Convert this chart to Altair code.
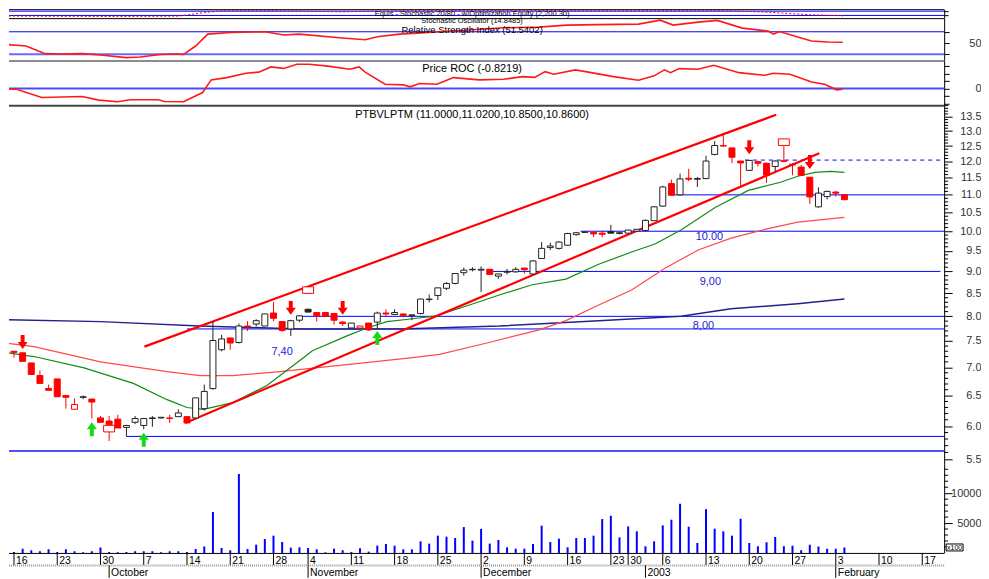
import altair as alt
import pandas as pd

# ---------------- data (x = trading-day index, 0 = Mon 16 Sep 2002) ----------------
day_idx = list(range(-1, 97))

opens = [7.19, 7.30, 7.27, 7.08, 6.85, 6.62, 6.79, 6.50, 6.27, 6.47,
         6.44, 6.13, 6.08, 6.11, 5.98, 6.06, 6.01, 6.12, 6.13, 6.13,
         6.15, 6.15, 6.13, 6.28, 6.62, 7.33, 7.56, 7.47, 7.80, 7.84,
         7.80, 8.07, 7.89, 7.74, 7.92, 8.15, 8.08, 8.08, 8.06, 7.88,
         7.76, 7.76, 7.86, 7.88, 8.07, 8.04, 8.05, 8.02, 8.06, 8.36,
         8.45, 8.61, 8.72, 8.97, 9.04, 9.03, 9.05, 8.89, 8.98, 8.99,
         9.08, 8.94, 9.31, 9.58, 9.56, 9.64, 9.91, 9.97, 9.97, 9.95,
         9.99, 9.94, 9.95, 10.00, 10.02, 10.28, 10.68, 11.33, 11.00, 11.49,
         11.46, 11.48, 12.23, 12.52, 12.44, 12.02, 11.73, 12.00, 11.95, 11.85,
         12.03, 11.92, 11.83, 11.52, 10.66, 10.95, 11.08, 11.00]
highs = [7.31, 7.30, 7.27, 7.08, 6.94, 6.69, 6.79, 6.51, 6.45, 6.50,
         6.45, 6.16, 6.16, 6.18, 6.02, 6.16, 6.13, 6.16, 6.14, 6.18,
         6.27, 6.16, 6.46, 6.69, 7.89, 7.62, 7.56, 7.85, 7.90, 7.94,
         8.05, 8.31, 7.90, 7.93, 8.02, 8.16, 8.08, 8.08, 8.06, 7.90,
         7.86, 7.80, 7.86, 8.10, 8.15, 8.15, 8.06, 8.04, 8.38, 8.47,
         8.63, 8.75, 8.96, 9.09, 9.10, 9.12, 9.05, 8.94, 9.06, 9.10,
         9.08, 9.27, 9.72, 9.70, 9.74, 9.96, 9.98, 9.98, 10.00, 10.02,
         10.17, 9.98, 10.04, 10.05, 10.31, 10.68, 11.27, 11.45, 11.63, 11.78,
         11.53, 12.19, 12.66, 12.91, 12.46, 12.02, 12.05, 12.03, 11.97, 12.04,
         12.50, 11.96, 11.90, 11.52, 11.22, 11.12, 11.12, 11.02]
lows = [7.17, 7.18, 7.11, 6.87, 6.71, 6.59, 6.48, 6.28, 6.27, 6.44,
        6.12, 6.05, 5.77, 5.97, 5.84, 6.03, 5.95, 5.99, 6.12, 6.05,
        6.15, 6.05, 6.13, 6.25, 6.60, 7.30, 7.33, 7.45, 7.70, 7.79,
        7.80, 7.90, 7.68, 7.60, 7.88, 8.08, 7.89, 8.00, 7.83, 7.80,
        7.76, 7.75, 7.70, 7.74, 8.01, 8.03, 7.98, 7.92, 8.04, 8.30,
        8.35, 8.57, 8.70, 8.90, 9.00, 8.53, 8.93, 8.83, 8.93, 8.97,
        8.95, 8.93, 9.30, 9.52, 9.53, 9.62, 9.89, 9.97, 9.85, 9.84,
        9.94, 9.92, 9.94, 9.98, 9.99, 10.27, 10.66, 10.98, 10.98, 11.40,
        11.23, 11.46, 12.20, 12.48, 11.95, 11.27, 11.72, 11.85, 11.35, 11.70,
        11.98, 11.58, 11.56, 10.74, 10.64, 10.87, 10.95, 10.85]
closes = [7.29, 7.28, 7.11, 6.87, 6.71, 6.59, 6.48, 6.47, 6.35, 6.48,
          6.39, 6.06, 6.02, 5.97, 6.01, 6.12, 6.12, 6.13, 6.14, 6.12,
          6.21, 6.05, 6.46, 6.57, 7.51, 7.54, 7.46, 7.80, 7.78, 7.91,
          8.05, 7.96, 7.71, 7.91, 8.01, 8.09, 8.01, 8.00, 7.92, 7.85,
          7.86, 7.80, 7.72, 8.07, 8.05, 8.08, 8.02, 8.03, 8.37, 8.37,
          8.62, 8.72, 8.95, 9.03, 9.05, 9.05, 8.93, 8.94, 9.00, 9.05,
          9.04, 9.25, 9.56, 9.62, 9.72, 9.94, 9.96, 9.98, 9.93, 9.92,
          9.95, 9.96, 10.03, 10.05, 10.29, 10.66, 11.23, 10.99, 11.47, 11.46,
          11.48, 12.02, 12.52, 12.50, 12.14, 11.96, 12.04, 11.95, 11.58, 12.02,
          12.01, 11.90, 11.58, 10.94, 11.05, 11.10, 11.05, 10.86]
volumes = [100, 170, 720, 450, 280, 610, 170, 610, 280, 110,
           280, 890, 170, 110, 170, 280, 280, 280, 110, 280,
           280, 170, 670, 1060, 6830, 830, 450, 13220, 670, 1390,
           2330, 2890, 1830, 890, 940, 830, 610, 110, 720, 450,
           170, 780, 220, 1220, 1500, 1220, 610, 610, 1940, 1560,
           2890, 2720, 2500, 4330, 2060, 4030, 1560, 2170, 940, 720,
           720, 1500, 4560, 1830, 2390, 940, 2500, 2500, 2890, 5670,
           6220, 2610, 4440, 3610, 1110, 1940, 4610, 5560, 8220, 4390,
           1670, 7330, 4060, 3610, 2890, 5720, 1670, 1110, 1780, 2670,
           1110, 1220, 450, 1390, 1060, 720, 720, 890]

rsi_i = [-1.5, 1.4, 3.6, 5.4, 7.9, 10.0, 13.0, 14.6, 16.9, 18.7, 19.6, 21.0, 22.4,
         25.0, 29.0, 31.2, 33.0, 37.6, 40.6, 42.0, 44.6, 49.4, 56.6, 60.7, 63.9, 67.6,
         72.2, 74.7, 76.2, 79.1, 81.3, 84.2, 87.2, 87.8, 88.5, 90.6, 92.2, 94.1, 95.8]
rsi_v = [48.2, 44.7, 31.1, 30.5, 31.1, 28.8, 24.0, 25.2, 29.6, 30.5, 29.6, 44.7, 65.9,
         68.6, 70.0, 64.2, 65.9, 59.4, 55.8, 61.2, 65.9, 70.0, 77.1, 78.3, 81.9, 82.7,
         83.6, 90.7, 81.9, 87.2, 90.2, 76.5, 71.2, 65.9, 70.4, 60.6, 53.5, 51.8, 51.5]

roc_i = [-1.5, 0.3, 3.2, 7.9, 9.8, 12.0, 13.4, 16.7, 17.4, 19.6, 21.8, 22.8, 24.6,
         26.8, 28.3, 29.7, 31.2, 32.7, 34.1, 36.3, 38.8, 39.9, 40.6, 42.9, 45.0, 45.8,
         46.9, 48.9, 50.8, 53.8, 56.6, 58.8, 60.2, 61.4, 62.4, 64.9, 66.4, 69.3, 72.2,
         74.0, 75.2, 75.9, 76.9, 79.1, 80.9, 83.8, 86.8, 87.8, 89.7, 92.2, 93.7, 95.1, 95.8]
roc_v = [0.0, -0.8, -12.0, -10.7, -15.5, -17.7, -15.0, -15.0, -17.3, -17.7, -5.3, 11.6, 14.7,
         20.5, 22.0, 29.0, 27.0, 32.5, 32.5, 30.0, 25.8, 29.0, 22.0, 5.8, 5.0, 2.3,
         6.7, 5.8, 14.7, 11.6, 12.5, 16.0, 15.0, 22.7, 19.2, 25.0, 22.0, 16.0, 11.2,
         17.0, 25.0, 21.3, 26.7, 25.8, 31.2, 21.3, 17.8, 20.5, 19.2, 8.9, 5.8, -1.7, -0.8]

stoch_i = [-1.5, 5, 12, 19, 22, 24, 30, 38, 42, 50, 60, 70, 80, 85, 88, 92, 96]
stoch_v = [12, 8, 5, 10, 60, 85, 88, 70, 82, 88, 90, 85, 92, 75, 60, 30, 14.8]

ma_short_i = [-1.5, 2.3, 8.1, 13.8, 17.7, 20.0, 21.9, 25.3, 29.2, 33.0, 34.5, 38.5, 40.8,
              43.1, 46.1, 48.8, 52.3, 56.1, 59.9, 63.8, 67.6, 71.4, 74.1, 77.1, 81.1, 84.9,
              88.6, 90.6, 92.6, 94.4, 96.0]
ma_short_p = [7.29, 7.20, 6.99, 6.71, 6.43, 6.30, 6.27, 6.38, 6.67, 7.12, 7.31, 7.60, 7.76,
              7.89, 7.95, 8.01, 8.22, 8.46, 8.69, 8.82, 9.17, 9.47, 9.67, 10.03, 10.65, 11.13,
              11.37, 11.55, 11.67, 11.70, 11.67]
ma_mid_i = [-1.5, 2.3, 10.0, 17.7, 21.5, 25.3, 30.7, 38.5, 46.1, 49.2, 54.9, 60.7, 63.8,
            67.6, 71.4, 75.3, 79.1, 82.9, 86.8, 90.6, 96.0]
ma_mid_p = [7.47, 7.39, 7.10, 6.92, 6.85, 6.85, 6.92, 7.05, 7.18, 7.24, 7.47, 7.72, 7.91,
            8.24, 8.57, 9.08, 9.52, 9.82, 10.05, 10.24, 10.37]
ma_long_i = [-1.5, 10.0, 21.5, 33.0, 44.6, 56.1, 67.6, 77.1, 82.9, 90.6, 96.0]
ma_long_p = [7.93, 7.89, 7.80, 7.74, 7.74, 7.80, 7.91, 8.00, 8.16, 8.27, 8.37]

channel_i = [15.08, 88.11, 19.8, 93.1]
channel_p = [7.39, 13.57, 6.05, 12.27]
channel_g = ["upper", "upper", "lower", "lower"]

level_p = [5.62, 5.84, 7.74, 8.0, 9.0, 10.0, 11.0, 12.05]
level_start = [-1.5, 13.0, 20.0, 32.8, 54.7, 65.5, 76.0, 84.5]
level_end = [107.53, 107.53, 107.53, 107.53, 107.1, 107.53, 107.53, 107.53]
level_style = ["thick", "solid", "solid", "solid", "solid", "solid", "solid", "dashed"]

level_text = ["7,40", "8,00", "9,00", "10.00"]
level_text_i = [31.0, 79.7, 80.5, 80.4]
level_text_p = [7.29, 7.80, 8.75, 9.85]

sell_i = [1, 32, 38, 85, 92]
sell_p = [7.48, 8.18, 8.18, 12.46, 11.99]
buy_i = [9, 15, 42]
buy_p = [5.95, 5.79, 7.56]
exit_i = [11, 34, 89]
exit_p = [5.96, 8.57, 12.63]

price_ticks = [5.5, 6.0, 6.5, 7.0, 7.5, 8.0, 8.5, 9.0, 9.5, 10.0, 10.5, 11.0, 11.5, 12.0, 12.5, 13.0, 13.5]
price_minor = [round(5.5 + 0.1 * k, 1) for k in range(85) if k % 5 != 0]
vol_ticks = [5000, 10000]
vol_minor = [1000, 2000, 3000, 4000, 6000, 7000, 8000, 9000, 11000, 12000, 13000, 14000]

week_i = [0, 5, 10, 15, 20, 25, 30, 34, 39, 44, 49, 54, 59, 64, 69, 71, 75, 80, 85, 90, 95, 100, 105]
week_lbl = ["16", "23", "30", "7", "14", "21", "28", "4", "11", "18", "25", "2", "9", "16",
            "23", "30", "6", "13", "20", "27", "3", "10", "17"]
month_i = [11, 34, 54, 73, 95]
month_lbl = ["October", "November", "December", "2003", "February"]

# ---------------- helpers ----------------
W = 939
XDOM = [-0.576, 107.53]
FONT = "Liberation Sans"
TX = 465
DOWN = "M-0.28,-1L0.28,-1L0.28,0L0.72,0L0,1L-0.72,0L-0.28,0Z"
UP = "M-0.28,1L0.28,1L0.28,0L0.72,0L0,-1L-0.72,0L-0.28,0Z"
BOX = "M-1,-0.6L1,-0.6L1,0.6L-1,0.6Z"
DUMMY = pd.DataFrame({"a": [0]})


def xq(field="i"):
    return alt.X(f"{field}:Q", scale=alt.Scale(domain=XDOM, nice=False, zero=False, padding=0), axis=None)


def border(color="#000000", width=1, y=0.5):
    return alt.Chart(DUMMY).mark_rule(color=color, strokeWidth=width).encode(
        x=alt.value(0), x2=alt.value(W), y=alt.value(y))


def label(text, x, y, size=11, color="#000000", align="center", baseline="middle"):
    return alt.Chart(pd.DataFrame({"t": [text]})).mark_text(
        font=FONT, fontSize=size, color=color, align=align, baseline=baseline).encode(
        x=alt.value(x), y=alt.value(y), text="t:N")


def right_axis(values, tick=8, labels=True, expr=None, fmt=None):
    kw = dict(orient="right", values=values, tickSize=tick, labelAlign="right",
              labelPadding=37 - tick, labelFont=FONT, labelFontSize=11, labelColor="#333333",
              domainColor="#000000", tickColor="#000000", title=None, grid=False,
              labelFlush=False, labelOverlap=False, labels=labels, labelBaseline="middle")
    if expr:
        kw["labelExpr"] = expr
    if fmt:
        kw["format"] = fmt
    return alt.Axis(**kw)


# ---------------- panel A : stochastic ----------------
yA = alt.Scale(domain=[-17.7, 107.9], nice=False, zero=False)
axA = right_axis([20, 80], tick=4, labels=False)
A = alt.layer(
    border(),
    alt.Chart(pd.DataFrame({"v": [20, 80]})).mark_rule(color="#0000ff").encode(
        y=alt.Y("v:Q", scale=yA, axis=axA), x=alt.value(0), x2=alt.value(W)),
    alt.Chart(pd.DataFrame({"i": stoch_i, "v": stoch_v})).mark_line(
        color="#ff0000", strokeWidth=1, strokeDash=[2, 2], clip=True).encode(
        x=xq(), y=alt.Y("v:Q", scale=yA, axis=axA)),
    label("Equis - Stochastic 20/80 - w/Optimization Equity (2,200.30)", TX, 4.6, size=7.5),
    label("Stochastic Oscillator (14.8485)", TX, 12.2, size=7.5),
).properties(width=W, height=9)

# ---------------- panel RSI ----------------
yR = alt.Scale(domain=[19.9, 94.25], nice=False, zero=False)
axR = right_axis([30, 50, 70], tick=5, expr="datum.value == 50 ? '50' : ''")
R = alt.layer(
    border(),
    alt.Chart(pd.DataFrame({"v": [70]})).mark_rule(color="#0000ff").encode(
        y=alt.Y("v:Q", scale=yR, axis=axR), x=alt.value(0), x2=alt.value(W)),
    alt.Chart(pd.DataFrame({"v": [30]})).mark_rule(color="#6a6aff", strokeWidth=2).encode(
        y=alt.Y("v:Q", scale=yR, axis=axR), x=alt.value(0), x2=alt.value(W)),
    alt.Chart(pd.DataFrame({"i": rsi_i, "v": rsi_v})).mark_line(
        color="#ff1a1a", strokeWidth=1.6, clip=True).encode(
        x=xq(), y=alt.Y("v:Q", scale=yR, axis=axR)),
    label("Relative Strength Index (51.5402)", TX, 11.7, size=9.5),
).properties(width=W, height=42)

# ---------------- panel ROC ----------------
yC = alt.Scale(domain=[-21.7, 38.3], nice=False, zero=False)
axC = right_axis([-20, -10, 0, 10, 20, 30], tick=5, expr="datum.value == 0 ? '0' : ''")
C = alt.layer(
    border(color="#8c8c8c", width=2, y=1),
    alt.Chart(pd.DataFrame({"v": [0]})).mark_rule(color="#4a4aff", strokeWidth=2).encode(
        y=alt.Y("v:Q", scale=yC, axis=axC), x=alt.value(0), x2=alt.value(W)),
    alt.Chart(pd.DataFrame({"i": roc_i, "v": roc_v})).mark_line(
        color="#ff1a1a", strokeWidth=1.6, clip=True).encode(
        x=xq(), y=alt.Y("v:Q", scale=yC, axis=axC)),
    label("Price ROC (-0.8219)", TX, 9),
).properties(width=W, height=45)

# ---------------- panel price ----------------
yP = alt.Scale(type="log", domain=[5.428, 13.93], nice=False, zero=False)
axP = right_axis(price_ticks, fmt=".1f")
candle_col, candle_fill = [], []
prev = None
for o, c in zip(opens, closes):
    col = "#ff0000" if (prev is not None and c < prev) else "#222222"
    candle_col.append(col)
    candle_fill.append(col if c < o else "#ffffff")
    prev = c
cdf = pd.DataFrame({"i": day_idx, "open": opens, "high": highs, "low": lows, "close": closes,
                    "col": candle_col, "fill": candle_fill})
lv = pd.DataFrame({"p": level_p, "i0": level_start, "i1": level_end, "style": level_style})


def yp(field):
    return alt.Y(f"{field}:Q", scale=yP, axis=axP)


def ma_line(xs, ps, color, width):
    return alt.Chart(pd.DataFrame({"i": xs, "p": ps})).mark_line(
        color=color, strokeWidth=width, clip=True).encode(x=xq(), y=yp("p"))


P = alt.layer(
    border(color="#444444", width=2, y=1),
    alt.Chart(pd.DataFrame({"p": price_minor})).mark_rule(color="#000000").encode(
        y=yp("p"), x=alt.value(W), x2=alt.value(W + 4)),
    alt.Chart(lv).transform_filter("datum.style == 'thick'").mark_rule(
        color="#5050ff", strokeWidth=2, clip=True).encode(x=xq("i0"), x2="i1:Q", y=yp("p")),
    alt.Chart(lv).transform_filter("datum.style == 'solid'").mark_rule(
        color="#0000ff", strokeWidth=1, clip=True).encode(x=xq("i0"), x2="i1:Q", y=yp("p")),
    alt.Chart(lv).transform_filter("datum.style == 'dashed'").mark_rule(
        color="#0000ff", strokeWidth=1, strokeDash=[4, 4], clip=True).encode(x=xq("i0"), x2="i1:Q", y=yp("p")),
    ma_line(ma_long_i, ma_long_p, "#22228c", 1.5),
    ma_line(ma_mid_i, ma_mid_p, "#ff4a4a", 1.2),
    ma_line(ma_short_i, ma_short_p, "#138a13", 1.2),
    alt.Chart(pd.DataFrame({"i": channel_i, "p": channel_p, "g": channel_g})).mark_line(
        color="#ff0000", strokeWidth=2.2, clip=True).encode(x=xq(), y=yp("p"), detail="g:N"),
    alt.Chart(cdf).mark_rule(strokeWidth=1, clip=True).encode(
        x=xq(), y=yp("low"), y2="high:Q", color=alt.Color("col:N", scale=None)),
    alt.Chart(cdf).mark_bar(size=6, strokeWidth=1, clip=True, orient="vertical").encode(
        x=xq(), y=yp("open"), y2="close:Q",
        fill=alt.Fill("fill:N", scale=None), stroke=alt.Stroke("col:N", scale=None)),
    alt.Chart(pd.DataFrame({"i": sell_i, "p": sell_p})).mark_point(
        shape=DOWN, size=196, filled=True, color="#ff0000", opacity=1, strokeWidth=0).encode(
        x=xq(), y=yp("p")),
    alt.Chart(pd.DataFrame({"i": buy_i, "p": buy_p})).mark_point(
        shape=UP, size=196, filled=True, color="#11dd11", opacity=1, strokeWidth=0).encode(
        x=xq(), y=yp("p")),
    alt.Chart(pd.DataFrame({"i": exit_i, "p": exit_p})).mark_point(
        shape=BOX, size=121, filled=True, fill="#ffffff", stroke="#ff0000", strokeWidth=1,
        opacity=1).encode(x=xq(), y=yp("p")),
    alt.Chart(pd.DataFrame({"i": level_text_i, "p": level_text_p, "t": level_text})).mark_text(
        font=FONT, fontSize=11, color="#2222dd").encode(x=xq(), y=yp("p"), text="t:N"),
    label("PTBVLPTM (11.0000,11.0200,10.8500,10.8600)", TX, 10),
).properties(width=W, height=361)

# ---------------- panel volume ----------------
yV = alt.Scale(domain=[0, 14833], nice=False, zero=False, padding=0)
axV = right_axis(vol_ticks, fmt="d")
V = alt.layer(
    alt.Chart(pd.DataFrame({"v": vol_minor})).mark_rule(color="#000000").encode(
        y=alt.Y("v:Q", scale=yV, axis=axV), x=alt.value(W), x2=alt.value(W + 4)),
    alt.Chart(pd.DataFrame({"i": day_idx, "v": volumes})).mark_bar(
        size=2, color="#0000ff", clip=True).encode(
        x=xq(), y=alt.Y("v:Q", scale=yV, axis=axV), y2=alt.datum(0)),
    alt.Chart(DUMMY).mark_rect(fill="#ffffff", stroke="#000000", strokeWidth=1).encode(
        x=alt.value(W + 2), x2=alt.value(W + 19), y=alt.value(80), y2=alt.value(87)),
    label("x100", W + 10.5, 83.8, size=7),
).properties(width=W, height=89)

# ---------------- date strip ----------------
wdf = pd.DataFrame({"i": week_i, "t": week_lbl})
mdf = pd.DataFrame({"i": month_i, "t": month_lbl})
S = alt.layer(
    border(),
    alt.Chart(DUMMY).mark_rule(color="#999999", strokeWidth=2, strokeDash=[1, 1]).encode(
        x=alt.value(0), x2=alt.value(W), y=alt.value(12.5)),
    alt.Chart(wdf).mark_rule(color="#000000").encode(x=xq(), y=alt.value(0), y2=alt.value(12)),
    alt.Chart(wdf).mark_text(font=FONT, fontSize=10.5, align="left", dx=2, baseline="alphabetic",
                             color="#000000").encode(x=xq(), y=alt.value(10.8), text="t:N"),
    alt.Chart(mdf).mark_rule(color="#000000").encode(x=xq(), y=alt.value(12.5), y2=alt.value(25)),
    alt.Chart(mdf).mark_text(font=FONT, fontSize=10.5, align="left", dx=2, baseline="alphabetic",
                             color="#000000").encode(x=xq(), y=alt.value(23.6), text="t:N"),
).properties(width=W, height=25)

chart = alt.VConcatChart(
    vconcat=[A, R, C, P, V, S], spacing=0, bounds="flush", padding=0, background="#ffffff"
).resolve_scale(x="independent", y="independent").configure_view(stroke=None)

chart.save("out.html", embed_options={"renderer": "svg", "actions": False})
